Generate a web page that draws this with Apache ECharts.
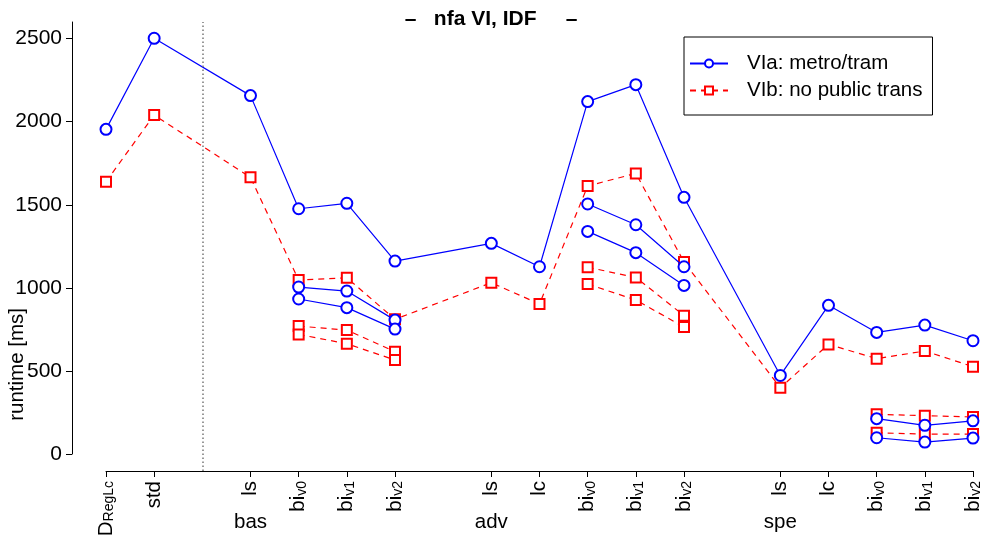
<!DOCTYPE html>
<html><head><meta charset="utf-8">
<script src="https://cdn.jsdelivr.net/npm/echarts@6/dist/echarts.min.js"></script>
<style>html,body{margin:0;padding:0;background:#fff}#c{width:988px;height:539px}</style>
</head><body><div id="c"></div>
<script>
// category slots (gaps at 2, 7, 13)
const xPos = [0,1,3,4,5,6,8,9,10,11,12,14,15,16,17,18];
const tickMain = ['D','std','ls','bi','bi','bi','ls','lc','bi','bi','bi','ls','lc','bi','bi','bi'];
const tickSub  = ['RegLc','','','v0','v1','v2','','','v0','v1','v2','','','v0','v1','v2'];
const groupNames = ['bas','adv','spe'];
const groupPos = [3,8,14];
const dividerPos = 2;
const yTicks = [0,500,1000,1500,2000,2500];

const blueMain = [1954,2502,2157,1476,1509,1161,1268,1127,2121,2223,1545,473,895,732,776,682];
const redMain  = [1639,2040,1665,1047,1061,811,1031,903,1613,1689,1156,399,660,574,620,526];

// extra bi variants (bas, adv, spe groups of 3)
const biX = [4,5,6,10,11,12,16,17,18];
const blueSub1 = [1005,981,806, 1505,1380,1127, 213,173,200];
const blueSub2 = [933,881,752, 1340,1212,1015, 98,72,96];
const redSub1  = [770,746,616, 1124,1063,833, 239,231,223];
const redSub2  = [720,664,566, 1023,927,764, 128,120,120];

const FONT = 'Liberation Sans, Arial, sans-serif';
const BLUE = '#0000ff', RED = '#ff0000';
const blueStyle = {color: BLUE, width: 1.2, type: 'solid'};
const redStyle = {color: RED, width: 1.2, type: [6,5]};

function pairs(xs, ys){ return xs.map((x,i)=>[x, ys[i]]); }

const series = [
  {name:'VIa: metro/tram', type:'line', data: pairs(xPos, blueMain), symbol:'emptyCircle', symbolSize:11,
   itemStyle:{color:BLUE, borderWidth:1.1}, lineStyle:blueStyle, z:3,
   markLine:{silent:true, symbol:'none', label:{show:false},
     lineStyle:{color:'#777', type:[1.5,2.5], width:1.5}, data:[{xAxis: dividerPos}]}},
  {name:'VIb: no public trans', type:'line', data: pairs(xPos, redMain), symbol:'emptyRect', symbolSize:10,
   itemStyle:{color:RED, borderWidth:1.1}, lineStyle:redStyle, z:2}
];
function addSub(name, ys, isBlue){
  for(let g=0; g<3; g++){
    const xs = biX.slice(g*3, g*3+3), vs = ys.slice(g*3, g*3+3);
    series.push({name: name+'_'+g, type:'line', data: pairs(xs, vs),
      symbol: isBlue ? 'emptyCircle' : 'emptyRect', symbolSize: isBlue ? 11 : 10,
      itemStyle:{color: isBlue ? BLUE : RED, borderWidth:1.1},
      lineStyle: isBlue ? blueStyle : redStyle, z: isBlue ? 3 : 2});
  }
}
addSub('VIa2', blueSub1, true);
addSub('VIa3', blueSub2, true);
addSub('VIb2', redSub1, false);
addSub('VIb3', redSub2, false);

const chart = echarts.init(document.getElementById('c'), null, {renderer:'canvas'});
chart.setOption({
  animation:false,
  backgroundColor:'#fff',
  textStyle:{fontFamily:FONT},
  title:{text:'–   nfa VI, IDF     –', left:486, textAlign:'center', top:4,
    textStyle:{fontFamily:FONT, fontSize:21, fontWeight:'bold', color:'#000'}},
  legend:{data:['VIa: metro/tram','VIb: no public trans'], orient:'vertical', left:684, top:37,
    borderColor:'#000', borderWidth:1, borderRadius:0, padding:[16,10,14,5], itemGap:6,
    itemWidth:38, itemHeight:10, backgroundColor:'#fff',
    textStyle:{fontFamily:FONT, fontSize:20.5, color:'#000', padding:[0,0,0,14]}},
  grid:[
    {left:106, right:15, top:22, bottom:68, outerBoundsMode:'none', containLabel:false},
    {left:72, width:10, top:22, bottom:85, outerBoundsMode:'none', containLabel:false}
  ],
  xAxis:[
    {type:'value', gridIndex:0, min:0, max:18, position:'bottom',
     axisLine:{show:true, onZero:false, lineStyle:{color:'#000', width:1}},
     axisTick:{show:true, length:6, customValues:xPos, lineStyle:{color:'#000'}},
     splitLine:{show:false},
     axisLabel:{show:true, customValues:xPos, rotate:90, margin:10, color:'#000',
       formatter:function(v){ const i = xPos.indexOf(v); if(i<0) return '';
         return tickSub[i] ? '{m|'+tickMain[i]+'}{s|'+tickSub[i]+'}' : '{m|'+tickMain[i]+'}'; },
       rich:{ m:{fontFamily:FONT, fontSize:20.5, color:'#000', lineHeight:20},
              s:{fontFamily:FONT, fontSize:14, color:'#000', lineHeight:14, verticalAlign:'bottom', padding:[12,0,0,0]} }}},
    {type:'value', gridIndex:0, min:0, max:18, position:'bottom',
     axisLine:{show:false, onZero:false}, axisTick:{show:false}, splitLine:{show:false},
     axisLabel:{show:true, customValues:groupPos, margin:41, color:'#000', fontFamily:FONT, fontSize:20.5,
       formatter:function(v){ const i = groupPos.indexOf(v); return i<0 ? '' : groupNames[i]; }}},
    {type:'value', gridIndex:1, min:0, max:1, show:false}
  ],
  yAxis:[
    {type:'value', gridIndex:0, min:-102, max:2600, show:false, splitLine:{show:false}},
    {type:'value', gridIndex:1, min:0, max:2600, position:'left',
     axisLine:{show:true, onZero:false, lineStyle:{color:'#000', width:1}},
     axisTick:{show:true, length:6, customValues:yTicks, lineStyle:{color:'#000'}},
     splitLine:{show:false},
     axisLabel:{show:true, customValues:yTicks, margin:10, color:'#000', fontFamily:FONT, fontSize:21,
       formatter:function(v){ return String(v); }}}
  ],
  graphic:[
    {type:'text', left:7, top:308, rotation:Math.PI/2,
     style:{text:'runtime [ms]', font:'20.5px '+FONT, fill:'#000'}}
  ],
  series: series
});
</script></body></html>
